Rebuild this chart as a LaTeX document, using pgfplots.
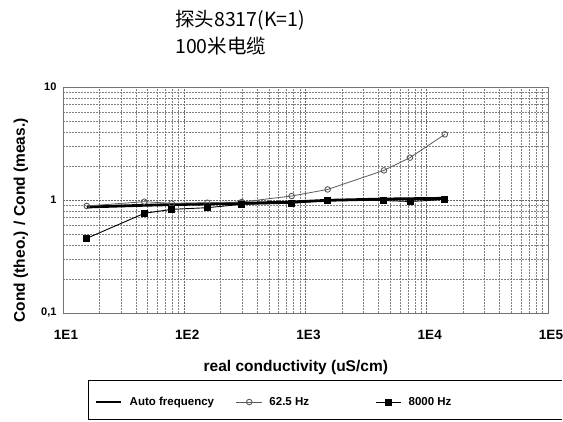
\documentclass[border=0pt]{standalone}
\usepackage{pgfplots}
\pgfplotsset{compat=1.18}
\usepackage{fontspec}
\setmainfont{Liberation Sans}
\newfontfamily\cjk{Noto Sans CJK SC}
\begin{document}
\begin{tikzpicture}
\useasboundingbox (-63pt,-108pt) rectangle (500pt,313pt);
\begin{axis}[
  at={(0,0)}, anchor=south west,
  scale only axis, width=485pt, height=226pt,
  xmode=log, ymode=log,
  xmin=10, xmax=100000, ymin=0.1, ymax=10,
  xtick={10,100,1000,10000,100000},
  xticklabels={1E1,1E2,1E3,1E4,1E5},
  ytick={0.1,1,10},
  yticklabels={{0,1},1,10},
  grid=both,
  major grid style={black!60, dash pattern=on 2pt off 1pt, line width=0.8pt},
  minor grid style={black!50, dash pattern=on 2pt off 1pt, line width=0.7pt},
  axis line style={black!55, line width=0.7pt},
  major tick length=0pt, minor tick length=0pt,
  tick label style={font=\bfseries\fontsize{13.5}{15}\selectfont},
  yticklabel style={font=\bfseries\fontsize{11}{13}\selectfont, xshift=-3pt},
  xticklabel style={yshift=-14pt, xshift=3pt},
  xlabel={real conductivity (uS/cm)},
  ylabel={Cond (theo.) / Cond (meas.)},
  label style={font=\bfseries\fontsize{15.5}{17}\selectfont},
  x label style={at={(axis description cs:0.48,-0.243)}, anchor=center},
  y label style={at={(axis description cs:-0.087,0.41)}, anchor=center, rotate=0},
  legend columns=3,
  legend style={at={(axis description cs:0.058,-0.394)}, anchor=west, draw=none, fill=none,
    font=\bfseries\fontsize{11.5}{13}\selectfont,
    /tikz/column 1/.style={column sep=5pt},
    /tikz/column 2/.style={column sep=20pt},
    /tikz/column 3/.style={column sep=5pt},
    /tikz/column 4/.style={column sep=64pt},
    /tikz/column 5/.style={column sep=5pt}},
  legend cell align=left,
  legend image code/.code={\draw[mark repeat=2,mark phase=2,#1] plot coordinates {(0cm,0cm) (0.45cm,0cm) (0.9cm,0cm)};},
]
\addplot[black, line width=2.8pt, mark=none] coordinates {
 (15.7,0.867) (46.8,0.898) (78.8,0.91) (155,0.922) (298,0.935)
 (769,0.96) (1523,0.994) (4436,1.02) (7270,1.027) (14100,1.035)
};
\addlegendentry{Auto frequency}
\addplot[gray!70!black, line width=0.8pt, mark=o, mark size=2.8pt, mark options={fill=white, line width=0.9pt}] coordinates {
 (15.7,0.885) (46.8,0.966) (78.8,0.935) (155,0.946) (298,0.96)
 (769,1.085) (1523,1.24) (4436,1.83) (7270,2.37) (14100,3.81)
};
\addlegendentry{62.5 Hz}
\addplot[black, line width=0.9pt, mark=square*, mark size=3pt] coordinates {
 (15.7,0.458) (46.8,0.762) (78.8,0.827) (155,0.855) (298,0.916)
 (769,0.935) (1523,0.994) (4436,0.99) (7270,0.97) (14100,1.01)
};
\addlegendentry{8000 Hz}
\end{axis}
\draw[black, line width=1pt] (25pt,-67pt) -- (499pt,-67pt);
\draw[black, line width=1pt] (25pt,-67pt) -- (25pt,-106pt) -- (499pt,-106pt);
\node[anchor=north west, align=left, inner sep=0pt, font=\cjk\fontsize{19.5}{27}\selectfont] at (112pt,303pt) {探头8317(K=1)\\100米电缆};
\end{tikzpicture}
\end{document}
